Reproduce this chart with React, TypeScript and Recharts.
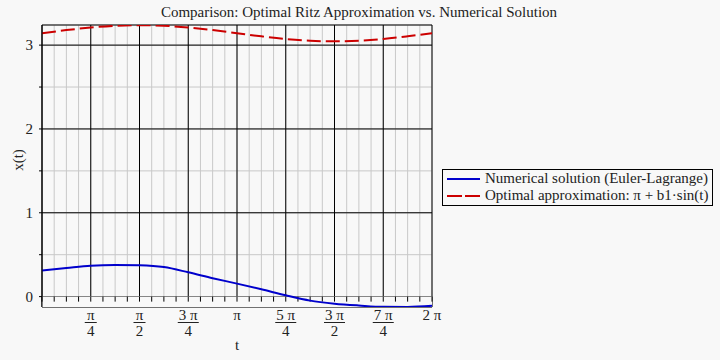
import {
  LineChart,
  Line,
  XAxis,
  YAxis,
  CartesianGrid,
  ReferenceLine,
  ReferenceArea,
} from "recharts";

const PI = Math.PI;

// samples at t = k·π/8
const stepsOfPiOver8 = [0, 1, 2, 3, 4, 5, 6, 7, 8, 9, 10, 11, 12, 13, 14, 15, 16];
const numerical = [
  0.31, 0.34, 0.368, 0.377, 0.373, 0.352, 0.29, 0.22, 0.155, 0.087, 0.015, -0.048, -0.084, -0.106,
  -0.122, -0.123, -0.11,
];
const ritz = [
  3.142, 3.179, 3.21, 3.231, 3.238, 3.231, 3.21, 3.179, 3.142, 3.105, 3.073, 3.052, 3.045, 3.052,
  3.073, 3.105, 3.142,
];

const X_LABELS = [
  { num: "", den: "" },
  { num: "π", den: "4" },
  { num: "π", den: "2" },
  { num: "3 π", den: "4" },
  { num: "π", den: "" },
  { num: "5 π", den: "4" },
  { num: "3 π", den: "2" },
  { num: "7 π", den: "4" },
  { num: "2 π", den: "" },
];
const Y_MAJOR = [0, 1, 2, 3];
const Y_MINOR = [0.5, 1.5, 2.5];
const Y_DOMAIN: [number, number] = [-0.124, 3.24];
const X_DOMAIN: [number, number] = [0, 2 * PI];

const xMajor = X_LABELS.map((_, k) => (k * PI) / 4);
const xMinor = Array.from({ length: 33 }, (_, k) => (k * PI) / 16);
const yAll = [...Y_MAJOR, ...Y_MINOR].sort((a, b) => a - b);

const data = stepsOfPiOver8.map((k, i) => ({
  t: (k * PI) / 8,
  numerical: numerical[i],
  ritz: ritz[i],
}));

const BG = "#f8f8f8";
const INK = "#222";
const FONT = "'Liberation Serif', 'DejaVu Serif', serif";

function EmptyTick() {
  return <g />;
}

// eslint-disable-next-line @typescript-eslint/no-explicit-any
function PiTick(props: any) {
  const { x, y, payload } = props;
  const k = Math.round(payload.value / (PI / 4));
  const lab = X_LABELS[k];
  if (!lab || !lab.num) return null;
  const w = lab.num.length > 1 ? 21 : 12;
  return (
    <g fontFamily={FONT} fontSize={15} fill={INK}>
      <text x={x} y={y + 13} textAnchor="middle">
        {lab.num}
      </text>
      {lab.den && (
        <>
          <line x1={x - w / 2} x2={x + w / 2} y1={y + 15.5} y2={y + 15.5} stroke={INK} strokeWidth={1} />
          <text x={x} y={y + 29} textAnchor="middle">
            {lab.den}
          </text>
        </>
      )}
    </g>
  );
}

export default function App() {
  return (
    <div style={{ position: "absolute", left: 0, top: 0, width: 720, height: 360, background: BG, fontFamily: FONT }}>
      <LineChart
        width={720}
        height={360}
        data={data}
        margin={{ top: 25, right: 288, bottom: 0, left: 0 }}
      >
        <XAxis
          xAxisId="minor"
          dataKey="t"
          type="number"
          domain={X_DOMAIN}
          ticks={xMinor}
          interval={0}
          height={0}
          tick={<EmptyTick />}
          axisLine={false}
          tickLine={false}
          allowDataOverflow
        />
        <XAxis
          xAxisId="major"
          dataKey="t"
          type="number"
          domain={X_DOMAIN}
          ticks={xMajor}
          interval={0}
          axisLine={false}
          tickLine={false}
          tickSize={0}
          tickMargin={0}
          tick={<PiTick />}
          height={53}
          allowDataOverflow
        />
        <YAxis
          yAxisId="minor"
          type="number"
          domain={Y_DOMAIN}
          ticks={yAll}
          interval={0}
          width={0}
          tick={<EmptyTick />}
          axisLine={false}
          tickLine={false}
          allowDataOverflow
        />
        <YAxis
          yAxisId="major"
          type="number"
          domain={Y_DOMAIN}
          ticks={Y_MAJOR}
          interval={0}
          width={42}
          tickSize={3}
          tickMargin={6}
          tick={{ fontFamily: FONT, fontSize: 15, fill: INK }}
          axisLine={{ stroke: "#000" }}
          tickLine={{ stroke: "#000" }}
          allowDataOverflow
        />

        <CartesianGrid xAxisId="minor" yAxisId="minor" stroke="#c8c8c8" />
        <ReferenceArea
          xAxisId="major"
          yAxisId="major"
          x1={0}
          x2={2 * PI}
          y1={Y_DOMAIN[0]}
          y2={0}
          fill={BG}
          fillOpacity={1}
          stroke="none"
        />
        <CartesianGrid xAxisId="major" yAxisId="major" stroke="#000" />
        {xMinor.map((t) => (
          <ReferenceLine
            key={`xt-${t}`}
            xAxisId="major"
            yAxisId="major"
            segment={[
              { x: t, y: 0 },
              { x: t, y: -0.06 },
            ]}
            stroke="#000"
            ifOverflow="visible"
          />
        ))}
        {Y_MINOR.map((v) => (
          <ReferenceLine
            key={`yt-${v}`}
            xAxisId="major"
            yAxisId="major"
            segment={[
              { x: -0.048, y: v },
              { x: 0, y: v },
            ]}
            stroke="#000"
            ifOverflow="visible"
          />
        ))}

        <Line
          xAxisId="major"
          yAxisId="major"
          dataKey="numerical"
          type="monotone"
          stroke="#0000cc"
          strokeWidth={2}
          dot={false}
          isAnimationActive={false}
        />
        <Line
          xAxisId="major"
          yAxisId="major"
          dataKey="ritz"
          type="monotone"
          stroke="#cc0000"
          strokeWidth={2}
          strokeDasharray="14 5"
          dot={false}
          isAnimationActive={false}
        />
      </LineChart>

      {/* title and axis labels */}
      <div
        style={{
          position: "absolute",
          left: 359,
          top: 4,
          transform: "translateX(-50%)",
          whiteSpace: "nowrap",
          fontSize: 15,
          color: INK,
        }}
      >
        Comparison: Optimal Ritz Approximation vs. Numerical Solution
      </div>
      <div style={{ position: "absolute", left: 237, top: 337, transform: "translateX(-50%)", fontSize: 15, color: INK }}>
        t
      </div>
      <div
        style={{
          position: "absolute",
          left: 18,
          top: 160,
          transform: "translate(-50%, -50%) rotate(-90deg)",
          fontSize: 15,
          color: INK,
          whiteSpace: "nowrap",
        }}
      >
        x(t)
      </div>

      {/* legend */}
      <div
        style={{
          position: "absolute",
          left: 442,
          top: 169,
          width: 269,
          height: 35,
          border: "1px solid #000",
          fontSize: 15,
          color: INK,
        }}
      >
        <div style={{ display: "flex", alignItems: "center", height: 17 }}>
          <svg width={42} height={17} style={{ flex: "none" }}>
            <line x1={4} x2={37} y1={9} y2={9} stroke="#0000cc" strokeWidth={2} />
          </svg>
          <span style={{ whiteSpace: "nowrap", lineHeight: "17px" }}>Numerical solution (Euler-Lagrange)</span>
        </div>
        <div style={{ display: "flex", alignItems: "center", height: 17 }}>
          <svg width={42} height={17} style={{ flex: "none" }}>
            <line x1={4} x2={37} y1={9} y2={9} stroke="#cc0000" strokeWidth={2} strokeDasharray="15 3" />
          </svg>
          <span style={{ whiteSpace: "nowrap", lineHeight: "17px" }}>Optimal approximation: π + b1·sin(t)</span>
        </div>
      </div>
    </div>
  );
}
